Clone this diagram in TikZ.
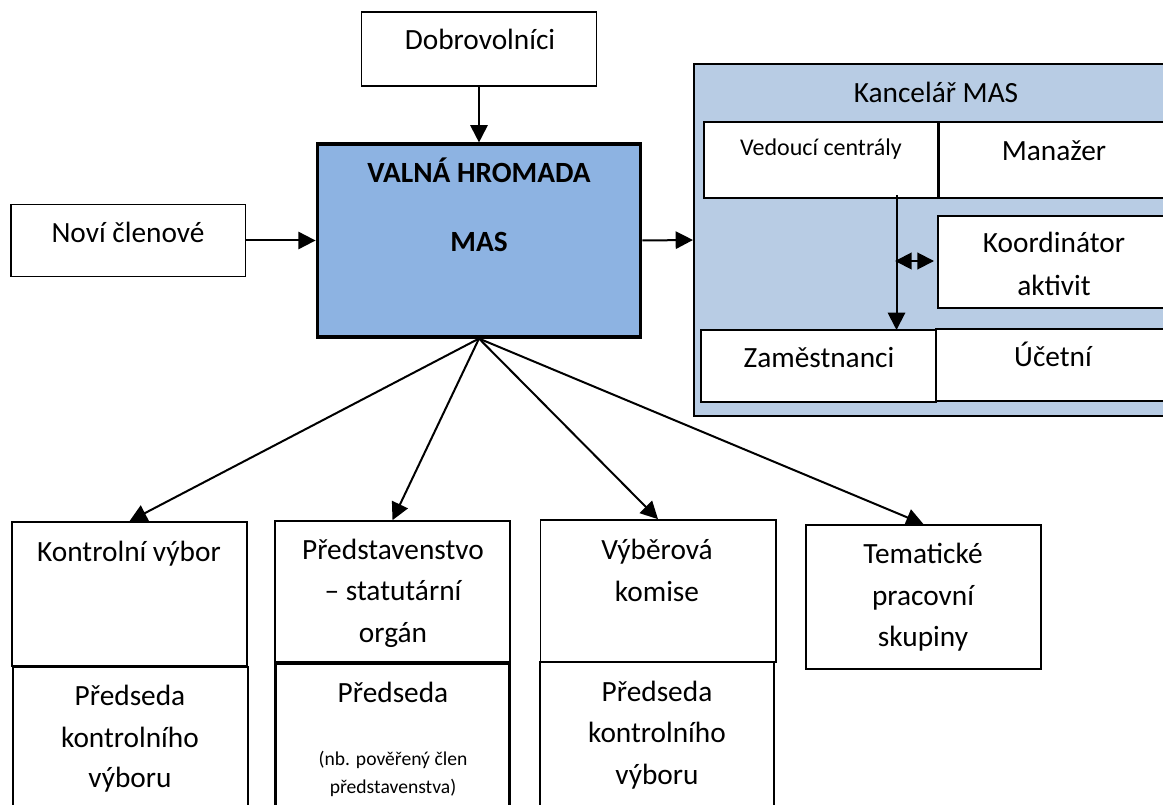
\documentclass[tikz,border=0pt]{standalone}
\usepackage{fontspec}
\setmainfont{Carlito}
\usetikzlibrary{arrows.meta}
\definecolor{hrom}{HTML}{8DB3E2}
\definecolor{kanc}{HTML}{B8CCE4}
\tikzset{
 px/.style={x=0.75pt,y=-0.75pt},
 bx/.style={draw=black,line width=1.25pt,fill=white,inner sep=0pt},
 thickbx/.style={draw=black,line width=2.5pt,fill=white,inner sep=0pt},
 lbl/.style={font=\fontsize{22}{22}\selectfont,anchor=base,inner sep=0pt},
 blbl/.style={font=\fontsize{22}{22}\selectfont\bfseries,anchor=base,inner sep=0pt},
 sm/.style={font=\fontsize{18}{18}\selectfont,anchor=base,inner sep=0pt},
 tiny/.style={font=\fontsize{14.7}{14.7}\selectfont,anchor=base,inner sep=0pt},
 arr/.style={draw=black,line width=1.5pt,-{Triangle[length=13pt,width=13pt]}},
 darr/.style={draw=black,line width=1.5pt,{Triangle[length=12.5pt,width=12.5pt]}-{Triangle[length=12.5pt,width=12.5pt]}},
}
\begin{document}
\begin{tikzpicture}[px]
\useasboundingbox (0,0) rectangle (1163,805);
\clip (0,0) rectangle (1163,805);
\node[bx,name=dob,minimum width=176.25pt,minimum height=55.5pt] at (479,49) {};
\node[bx,name=val,fill=hrom,line width=2.6pt,minimum width=242.5pt,minimum height=144.5pt] at (479,240.5) {};
\node[bx,name=nov,minimum width=176pt,minimum height=54pt] at (128,240.5) {};
\node[bx,name=kan,fill=kanc,line width=1.5pt,minimum width=375pt,minimum height=264pt] at (944,240) {};
\node[bx,name=ved,minimum width=176.25pt,minimum height=57pt] at (821.5,160) {};
\node[bx,name=man,minimum width=225pt,minimum height=57pt] at (1089,160) {};
\draw[line width=1.9pt] (man.north west) -- (man.south west);
\node[bx,name=koo,line width=1.6pt,minimum width=225pt,minimum height=69pt] at (1088,262) {};
\node[bx,name=zam,minimum width=176.25pt,minimum height=54pt] at (818.5,366) {};
\node[bx,name=uce,minimum width=225pt,minimum height=54pt] at (1086,365) {};
\node[bx,name=kon,minimum width=176.25pt,minimum height=108pt] at (129.5,594) {};
\node[bx,name=pk,minimum width=176.25pt,minimum height=150pt] at (130.5,767) {};
\node[bx,name=pre,minimum width=176.25pt,minimum height=106.5pt] at (392.5,592) {};
\node[thickbx,name=pp,minimum width=175.5pt,minimum height=150pt] at (392.5,763) {};
\node[bx,name=vyb,minimum width=176.5pt,minimum height=106.5pt] at (658,591) {};
\node[bx,name=pv,minimum width=175.5pt,minimum height=150pt] at (657,762) {};
\node[bx,name=tem,minimum width=176.25pt,minimum height=108pt] at (923.5,597) {};
\node[lbl] at (480,50) {Dobrovolníci};
\node[blbl] at (479,183) {VALNÁ HROMADA};
\node[blbl] at (479,252) {MAS};
\node[lbl] at (128,243) {Noví členové};
\node[lbl] at (936,103) {Kancelář MAS};
\node[sm] at (821,156) {Vedoucí centrály};
\node[lbl] at (1054,161) {Manažer};
\node[lbl] at (1054,253) {Koordinátor};
\node[lbl] at (1054,296) {aktivit};
\node[lbl] at (819,368) {Zaměstnanci};
\node[lbl] at (1053,367) {Účetní};
\node[lbl] at (129,561) {Kontrolní výbor};
\node[lbl] at (393,559) {Představenstvo};
\node[lbl] at (393,600) {– statutární};
\node[lbl] at (393,642) {orgán};
\node[lbl] at (130,705) {Předseda};
\node[lbl] at (130,747) {kontrolního};
\node[lbl] at (130,787) {výboru};
\node[lbl] at (393,702) {Předseda};
\node[tiny] at (393,765) {(nb. pověřený člen};
\node[tiny] at (393,793) {představenstva)};
\node[lbl] at (657,559) {Výběrová};
\node[lbl] at (657,601) {komise};
\node[lbl] at (657,701) {Předseda};
\node[lbl] at (657,742) {kontrolního};
\node[lbl] at (657,784) {výboru};
\node[lbl] at (923,563) {Tematické};
\node[lbl] at (923,605) {pracovní};
\node[lbl] at (923,646) {skupiny};
\draw[arr] (dob.south) -- (val.north);
\draw[arr] (nov.east) -- (val.west);
\draw[arr] (val.east) -- (kan.west);
\draw[arr] (val.south) -- (kon.north);
\draw[arr] (val.south) -- (pre.north);
\draw[arr] (val.south) -- (vyb.north);
\draw[arr] (val.south) -- (tem.north);
\coordinate (s1) at (896.5,195);
\coordinate (s2) at (896.5,330);
\draw[arr] (s1) -- (s2);
\coordinate (d1) at (895,261);
\coordinate (d2) at (934,261);
\draw[darr] (d1) -- (d2);
\end{tikzpicture}
\end{document}
